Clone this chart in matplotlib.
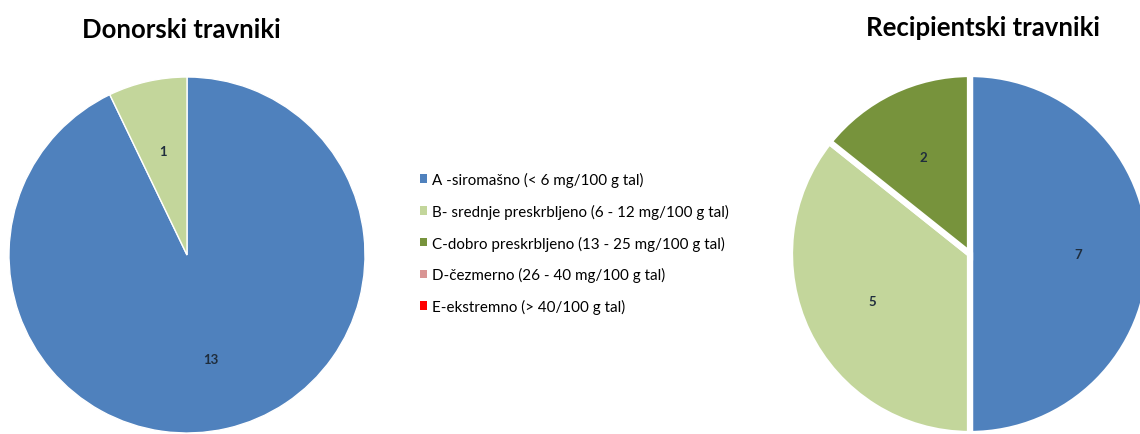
import matplotlib.pyplot as plt
from matplotlib.patches import Patch

# classes and colours
categories = [
    "A -siromašno (< 6 mg/100 g tal)",
    "B- srednje preskrbljeno (6 - 12 mg/100 g tal)",
    "C-dobro preskrbljeno (13 - 25 mg/100 g tal)",
    "D-čezmerno (26 - 40 mg/100 g tal)",
    "E-ekstremno (> 40/100 g tal)",
]
colors = ["#4F81BD", "#C3D69B", "#77933C", "#D99594", "#FF0000"]

# number of sites per class
donor_values = [13, 1, 0, 0, 0]
recipient_values = [7, 5, 2, 0, 0]

plt.rcParams["font.family"] = ["Lato", "DejaVu Sans"]

fig = plt.figure(figsize=(11.4, 4.35), dpi=100)
W, H = 1140, 435


def draw_pie(values, cx, cy, r, edge_w):
    # axes placed in pixel coords (cy measured from top)
    ax = fig.add_axes([(cx - r) / W, (H - cy - r) / H, 2 * r / W, 2 * r / H])
    vals = [v for v in values if v > 0]
    cols = [c for v, c in zip(values, colors) if v > 0]
    ax.pie(
        vals,
        colors=cols,
        startangle=90,
        counterclock=False,
        labels=[str(v) for v in vals],
        labeldistance=0.6,
        radius=1,
        wedgeprops={"edgecolor": "white", "linewidth": edge_w},
        textprops={"fontsize": 9.5, "fontweight": "bold", "color": "#1F2D3D",
                   "ha": "center", "va": "center"},
    )
    ax.set_xlim(-1, 1)
    ax.set_ylim(-1, 1)
    ax.set_aspect("auto")
    return ax


draw_pie(donor_values, 187, 256, 178, 1)
draw_pie(recipient_values, 970, 255, 180, 4.5)

fig.text(181 / W, 1 - 30 / H, "Donorski travniki", ha="center", va="center",
         fontsize=18.5, fontweight="bold")
fig.text(983 / W, 1 - 28 / H, "Recipientski travniki", ha="center", va="center",
         fontsize=18.5, fontweight="bold")

handles = [Patch(facecolor=c, edgecolor="none") for c in colors]
fig.legend(
    handles,
    categories,
    loc="center left",
    bbox_to_anchor=(406 / W, 1 - 244 / H),
    frameon=False,
    fontsize=10.9,
    handlelength=0.5,
    handleheight=0.5,
    handletextpad=0.3,
    labelspacing=1.1,
)

fig.savefig("out.png", dpi=100)
